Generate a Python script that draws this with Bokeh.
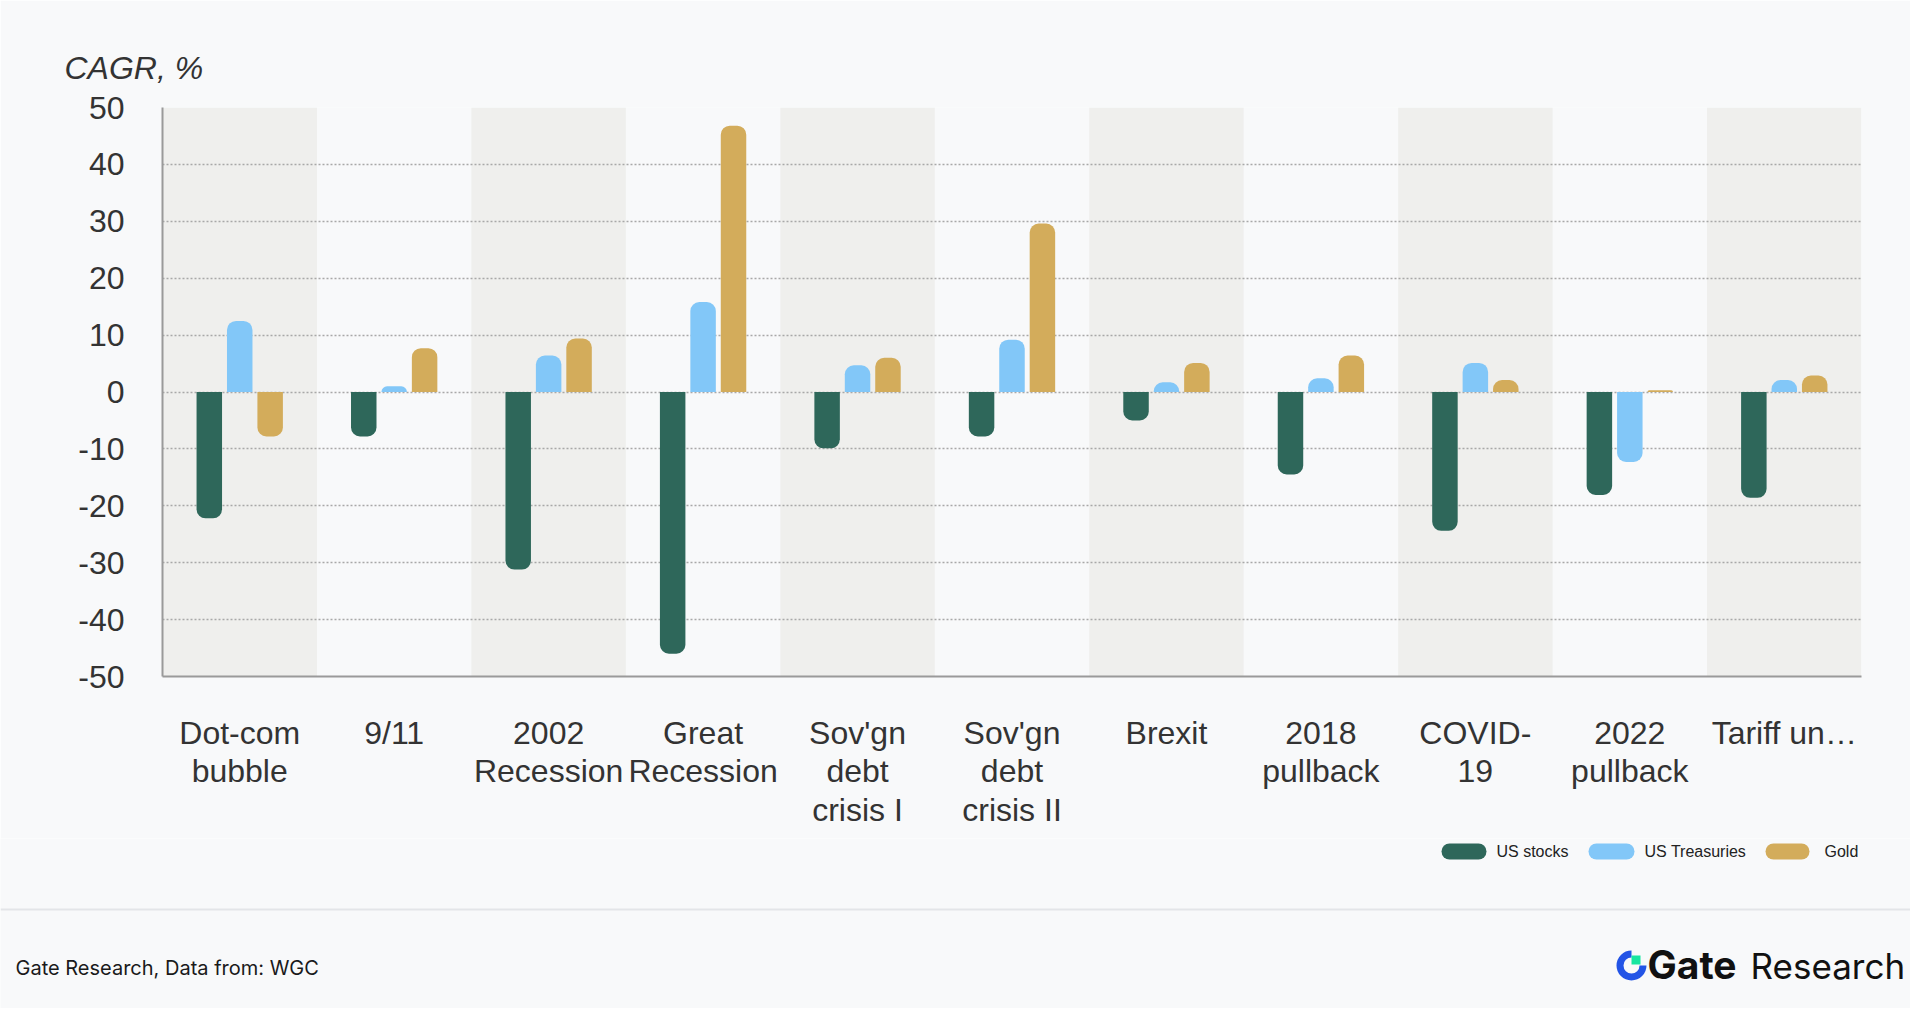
from bokeh.plotting import figure
from bokeh.models import ColumnDataSource, FixedTicker, Range1d, FactorRange
from bokeh.transform import dodge
from bokeh.layouts import column
from bokeh.embed import file_html
from bokeh.resources import INLINE
from bokeh.core.properties import value
import math

# ---------------- data ----------------
categories = ["Dot-com\nbubble", "9/11", "2002\nRecession", "Great\nRecession",
              "Sov'gn\ndebt\ncrisis I", "Sov'gn\ndebt\ncrisis II", "Brexit",
              "2018\npullback", "COVID-\n19", "2022\npullback", "Tariff un\u2026"]
us_stocks = [-22.2, -7.8, -31.2, -46.0, -9.9, -7.8, -5.0, -14.5, -24.4, -18.1, -18.6]
us_treasuries = [12.5, 1.0, 6.4, 15.8, 4.7, 9.2, 1.7, 2.4, 5.1, -12.3, 2.1]
gold = [-7.8, 7.7, 9.4, 46.8, 6.0, 29.6, 5.1, 6.4, 2.1, 0.3, 2.9]
series_names = ["US stocks", "US Treasuries", "Gold"]
series_values = [us_stocks, us_treasuries, gold]
series_colors = ["#2e675a", "#82c7f8", "#d3ac5b"]
y_ticks = [-50, -40, -30, -20, -10, 0, 10, 20, 30, 40, 50]
y_label = "CAGR, %"
source_note = "Gate Research, Data from: WGC"

BG = "#f8f9fa"
BAND = "#efefed"
FONT = "Liberation Sans"

# ---------------- main chart ----------------
p = figure(x_range=FactorRange(factors=categories, range_padding=0),
           y_range=Range1d(-50, 50),
           width=1910, height=838, output_backend="svg", toolbar_location=None,
           min_border_left=162, min_border_right=49, min_border_top=107, min_border_bottom=162,
           background_fill_color=BG, border_fill_color=BG, outline_line_color=None,
           frame_align=False)

# alternating category bands
p.vbar(x=categories[::2], width=1.0, top=50, bottom=-50,
       fill_color=BAND, line_color=None, level="image")

offsets = [-0.197, 0.0, 0.197]
for vals, col, off in zip(series_values, series_colors, offsets):
    pos = ColumnDataSource(dict(x=[c for c, v in zip(categories, vals) if v >= 0],
                                top=[v for v in vals if v >= 0]))
    neg = ColumnDataSource(dict(x=[c for c, v in zip(categories, vals) if v < 0],
                                bottom=[v for v in vals if v < 0]))
    p.vbar(x=dodge("x", off, range=p.x_range), width=0.165, top="top", bottom=0,
           source=pos, fill_color=col, line_color=None, border_radius=(9, 9, 0, 0))
    p.vbar(x=dodge("x", off, range=p.x_range), width=0.165, top=0, bottom="bottom",
           source=neg, fill_color=col, line_color=None, border_radius=(0, 0, 9, 9))

p.xgrid.grid_line_color = None
p.ygrid.ticker = FixedTicker(ticks=y_ticks)
p.ygrid.grid_line_color = "#a8a8a8"
p.ygrid.grid_line_dash = "2 2"
p.ygrid.grid_line_width = 1.5

p.yaxis.ticker = FixedTicker(ticks=y_ticks)
p.yaxis.major_label_overrides = {t: str(t) for t in y_ticks}
for ax in (p.xaxis, p.yaxis):
    ax.major_tick_line_color = None
    ax.minor_tick_line_color = None
    ax.axis_line_color = "#9a9a9a"
    ax.axis_line_width = 2
    ax.major_label_text_font = FONT
    ax.major_label_text_font_size = "32px"
    ax.major_label_text_color = "#333333"
p.yaxis.major_label_standoff = 32
p.xaxis.major_label_standoff = 32
p.xaxis.major_label_text_line_height = 1.08

p.title.text = y_label
p.title.align = "left"
p.title.offset = -98
p.title.standoff = 44
p.title.text_font = FONT
p.title.text_font_style = "italic"
p.title.text_font_size = "32px"
p.title.text_color = "#333333"

# ---------------- footer: legend, separator, source, logo ----------------
FH = 170
f = figure(x_range=Range1d(0, 1910), y_range=Range1d(0, FH), width=1910, height=FH,
           output_backend="svg", toolbar_location=None, min_border=0,
           x_axis_location=None, y_axis_location=None,
           background_fill_color=BG, border_fill_color=BG, outline_line_color=None,
           frame_align=False)
f.grid.grid_line_color = None

f.quad(left=[1441, 1588, 1765], right=[1486, 1634, 1809], top=165, bottom=149,
       fill_color=series_colors, line_color=None, border_radius=8)
f.text(x=[1496, 1644, 1824], y=[157, 157, 157], text=series_names,
       text_font=value(FONT), text_font_size="16px", text_color="#222222",
       text_baseline="middle", text_align="left")

f.segment(x0=0, y0=99, x1=1910, y1=99, line_color="#e3e5e8", line_width=2)

f.text(x=[15], y=[41], text=[source_note], text_font=value("Inter"), text_font_size="20px",
       text_color="#1a1a1a", text_baseline="middle", text_align="left")

# logo
f.annular_wedge(x=1631, y=43, inner_radius=8, outer_radius=15,
                start_angle=math.pi / 2, end_angle=2 * math.pi,
                fill_color="#2354e6", line_color=None)
f.quad(left=1631, right=1640, bottom=44, top=53, fill_color="#17e5a0", line_color=None)
f.text(x=[1647], y=[44], text=["Gate"], text_font=value("Inter"), text_font_style="bold",
       text_font_size="39px", text_color="#111111", text_baseline="middle", text_align="left")
f.text(x=[1750], y=[43], text=["Research"], text_font=value("Inter"),
       text_font_size="35px", text_color="#111111", text_baseline="middle", text_align="left")

layout = column(p, f, spacing=0)
open("out.html", "w").write(file_html(layout, INLINE))
